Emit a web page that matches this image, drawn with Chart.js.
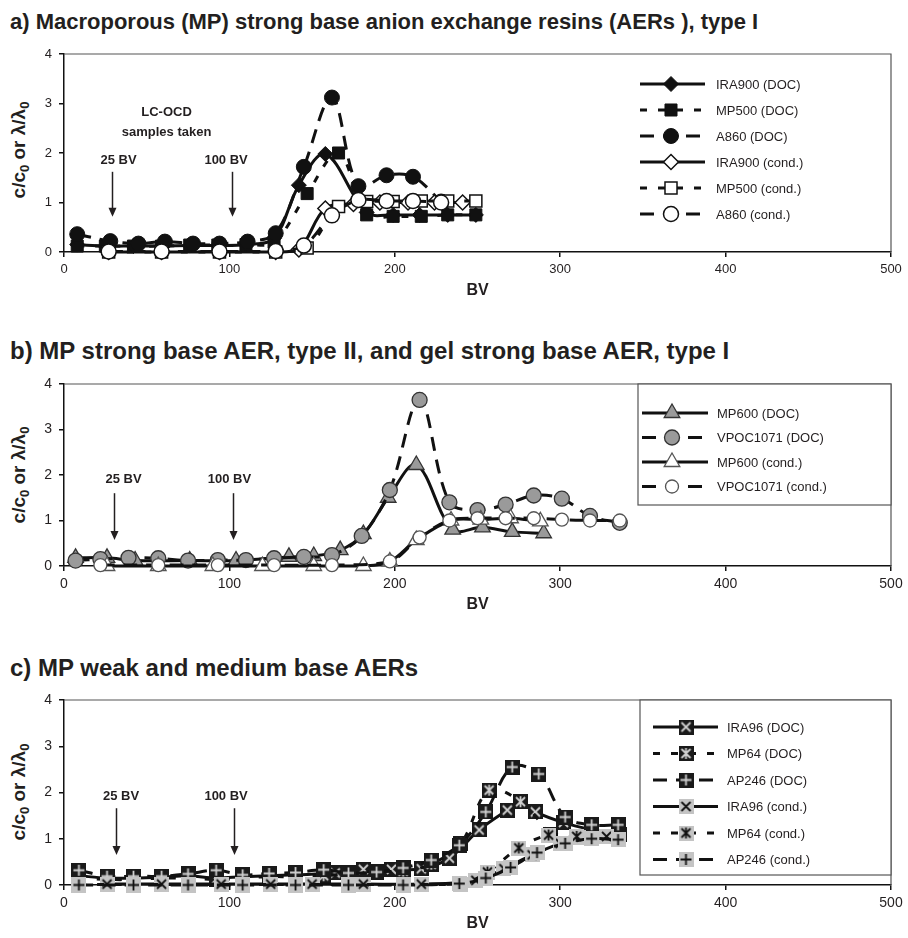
<!DOCTYPE html>
<html><head><meta charset="utf-8">
<script src="https://cdn.jsdelivr.net/npm/chart.js@4.4.1/dist/chart.umd.min.js"></script>
<style>
html,body{margin:0;padding:0;background:#fff;}
body{width:908px;height:938px;position:relative;overflow:hidden;font-family:"Liberation Sans",Arial,sans-serif;color:#231f20;}
.title{position:absolute;left:10px;font-weight:bold;white-space:nowrap;}
.ylab{position:absolute;width:200px;text-align:center;font-weight:bold;font-size:19px;line-height:24px;transform:rotate(-90deg);white-space:nowrap;}
.ylab sub{font-size:13px;vertical-align:-4px;line-height:0;}
canvas{position:absolute;left:0;}
</style></head>
<body>
<div class="title" style="top:9px;font-size:22px;line-height:26px">a) Macroporous (MP) strong base anion exchange resins (AERs ), type I</div>
<div class="title" style="top:337px;font-size:24px;line-height:28px">b) MP strong base AER, type II, and gel strong base AER, type I</div>
<div class="title" style="top:654px;font-size:24px;line-height:28px">c) MP weak and medium base AERs</div>
<div class="ylab" style="left:-81px;top:138px">c/c<sub>0</sub> or λ/λ<sub>0</sub></div>
<div class="ylab" style="left:-81px;top:463px">c/c<sub>0</sub> or λ/λ<sub>0</sub></div>
<div class="ylab" style="left:-81px;top:780px">c/c<sub>0</sub> or λ/λ<sub>0</sub></div>
<canvas id="ca" width="908" height="300" style="top:0px"></canvas>
<canvas id="cb" width="908" height="304" style="top:310px"></canvas>
<canvas id="cc" width="908" height="313" style="top:620px"></canvas>
<script>
// ---------- axis ticks ----------
const BV_TICKS = [0, 100, 200, 300, 400, 500];
const Y_TICKS = [0, 1, 2, 3, 4];

// ---------- panel a ----------
const a_IRA900_DOC_bv = [8, 25, 42, 59, 76, 93, 110, 127, 142, 158, 183, 199, 215, 232, 249];
const a_IRA900_DOC    = [0.15, 0.12, 0.12, 0.12, 0.13, 0.13, 0.15, 0.28, 1.35, 1.98, 0.8, 0.75, 0.75, 0.75, 0.75];
const a_MP500_DOC_bv  = [8, 25, 42, 59, 76, 93, 110, 127, 147, 166, 183, 199, 216, 232, 249];
const a_MP500_DOC     = [0.12, 0.12, 0.12, 0.12, 0.14, 0.14, 0.15, 0.2, 1.18, 2.0, 0.75, 0.72, 0.72, 0.75, 0.75];
const a_A860_DOC_bv   = [8, 28, 45, 61, 78, 94, 111, 128, 145, 162, 178, 195, 211, 228];
const a_A860_DOC      = [0.36, 0.22, 0.17, 0.21, 0.17, 0.17, 0.21, 0.38, 1.72, 3.12, 1.33, 1.55, 1.52, 1.02];
const a_IRA900_C_bv   = [27, 59, 94, 128, 142, 158, 175, 191, 208, 224, 241];
const a_IRA900_C      = [0, 0, 0, 0, 0.05, 0.88, 0.97, 1.0, 1.0, 1.0, 1.0];
const a_MP500_C_bv    = [27, 59, 94, 128, 147, 166, 183, 199, 216, 232, 249];
const a_MP500_C       = [0, 0, 0, 0, 0.08, 0.92, 1.02, 1.02, 1.03, 1.03, 1.03];
const a_A860_C_bv     = [27, 59, 94, 128, 145, 162, 178, 195, 211, 228];
const a_A860_C        = [0.01, 0.01, 0.01, 0.02, 0.13, 0.74, 1.05, 1.03, 1.03, 1.0];

// ---------- panel b ----------
const b_MP600_DOC_bv = [7, 26, 43, 76, 104, 136, 151, 167, 181, 196, 213, 235, 253, 271, 290];
const b_MP600_DOC    = [0.18, 0.18, 0.12, 0.12, 0.12, 0.2, 0.22, 0.35, 0.7, 1.5, 2.22, 0.8, 0.85, 0.75, 0.72];
const b_VPOC_DOC_bv  = [7, 22, 39, 57, 75, 93, 110, 127, 145, 162, 180, 197, 215, 233, 250, 267, 284, 301, 318, 336];
const b_VPOC_DOC     = [0.12, 0.15, 0.18, 0.17, 0.12, 0.13, 0.13, 0.17, 0.2, 0.24, 0.66, 1.67, 3.65, 1.4, 1.23, 1.35, 1.55, 1.48, 1.1, 0.95];
const b_MP600_C_bv   = [26, 57, 90, 120, 151, 181, 197, 213, 234, 252, 270, 288];
const b_MP600_C      = [0, 0, 0, 0, 0, 0, 0.1, 0.57, 1.0, 1.02, 1.05, 0.98];
const b_VPOC_C_bv    = [22, 57, 93, 127, 162, 197, 215, 233, 250, 267, 284, 301, 318, 336];
const b_VPOC_C       = [0.02, 0.02, 0.02, 0.02, 0.02, 0.1, 0.63, 1.0, 1.05, 1.05, 1.05, 1.02, 1.0, 1.0];

// ---------- panel c ----------
const c_IRA96_DOC_bv = [9, 26, 42, 59, 75, 92, 108, 124, 140, 164, 181, 198, 216, 233, 251, 268, 276, 285, 302, 319, 336];
const c_IRA96_DOC    = [0.2, 0.15, 0.15, 0.17, 0.2, 0.15, 0.18, 0.2, 0.22, 0.26, 0.34, 0.34, 0.35, 0.58, 1.19, 1.62, 1.8, 1.58, 1.35, 1.2, 1.1];
const c_MP64_DOC_bv  = [9, 26, 42, 59, 75, 92, 108, 124, 140, 157, 172, 189, 205, 222, 240, 257, 276, 294];
const c_MP64_DOC     = [0.15, 0.12, 0.12, 0.15, 0.15, 0.12, 0.15, 0.18, 0.18, 0.2, 0.25, 0.3, 0.3, 0.45, 0.9, 2.05, 1.8, 1.1];
const c_AP246_DOC_bv = [9, 26, 42, 59, 75, 92, 108, 124, 140, 157, 172, 189, 205, 222, 239, 255, 271, 287, 303, 319, 335];
const c_AP246_DOC    = [0.32, 0.19, 0.19, 0.19, 0.24, 0.32, 0.22, 0.25, 0.27, 0.33, 0.26, 0.28, 0.37, 0.54, 0.86, 1.58, 2.55, 2.4, 1.47, 1.3, 1.3];
const c_IRA96_C_bv   = [26, 59, 95, 125, 150, 181, 216, 249, 266, 283, 300, 311, 328];
const c_IRA96_C      = [0.02, 0.02, 0.02, 0.02, 0.02, 0.02, 0.02, 0.1, 0.35, 0.65, 0.9, 1.03, 1.05];
const c_MP64_C_bv    = [9, 42, 75, 108, 140, 172, 205, 240, 256, 275, 293, 310];
const c_MP64_C       = [0.01, 0.01, 0.01, 0.01, 0.01, 0.01, 0.01, 0.02, 0.28, 0.8, 1.08, 1.05];
const c_AP246_C_bv   = [9, 42, 75, 108, 140, 172, 205, 239, 255, 270, 286, 303, 319, 335];
const c_AP246_C      = [0, 0, 0, 0, 0, 0, 0, 0.03, 0.15, 0.38, 0.7, 0.9, 1.0, 0.98];

// ---------- annotation positions (data units) ----------
const a_notes = [
  {bv: 62, y: 2.81, text: 'LC-OCD'}, {bv: 62, y: 2.42, text: 'samples taken'},
  {bv: 33, y: 1.86, text: '25 BV'}, {bv: 98, y: 1.86, text: '100 BV'}];
const a_arrows = [{bv: 29, y1: 1.62, y2: 0.71}, {bv: 101.5, y1: 1.62, y2: 0.71}];
const b_notes = [{bv: 36, y: 1.91, text: '25 BV'}, {bv: 100, y: 1.91, text: '100 BV'}];
const b_arrows = [{bv: 30, y1: 1.6, y2: 0.57}, {bv: 102, y1: 1.6, y2: 0.57}];
const c_notes = [{bv: 34.5, y: 1.92, text: '25 BV'}, {bv: 98, y: 1.92, text: '100 BV'}];
const c_arrows = [{bv: 31.5, y1: 1.66, y2: 0.65}, {bv: 103, y1: 1.66, y2: 0.65}];

// ---------- helpers ----------
const FONT = '"Liberation Sans", Arial, sans-serif';
Chart.defaults.font.family = FONT;
Chart.defaults.color = '#231f20';

function pts(bv, v) { return bv.map((x, i) => ({x: x, y: v[i]})); }

function glyphMarker(bg, fg, glyph) {
  const s = 15, c = document.createElement('canvas');
  c.width = s; c.height = s;
  const g = c.getContext('2d');
  g.fillStyle = bg; g.fillRect(0, 0, s, s);
  g.strokeStyle = fg; g.lineWidth = 1.8; g.lineCap = 'butt';
  const m = s / 2, d = 4.5;
  g.beginPath();
  if (glyph === 'x' || glyph === 'star') {
    g.moveTo(m - d, m - d); g.lineTo(m + d, m + d);
    g.moveTo(m + d, m - d); g.lineTo(m - d, m + d);
  }
  if (glyph === 'star') { g.moveTo(m, m - 5.5); g.lineTo(m, m + 5.5); }
  if (glyph === 'plus') {
    g.moveTo(m - 5.5, m); g.lineTo(m + 5.5, m);
    g.moveTo(m, m - 5.5); g.lineTo(m, m + 5.5);
  }
  g.stroke();
  return c;
}

function drawMarker(ctx, s, x, y) {
  ctx.save();
  ctx.fillStyle = s.fill; ctx.strokeStyle = s.stroke; ctx.lineWidth = s.bw;
  const r = s.r;
  if (s.ps instanceof HTMLCanvasElement) {
    ctx.drawImage(s.ps, x - s.ps.width / 2, y - s.ps.height / 2);
    ctx.restore(); return;
  }
  ctx.beginPath();
  if (s.ps === 'circle') ctx.arc(x, y, r, 0, Math.PI * 2);
  else if (s.ps === 'rect') { const h = r * Math.SQRT1_2; ctx.rect(x - h, y - h, 2 * h, 2 * h); }
  else if (s.ps === 'rectRot') { ctx.moveTo(x - r, y); ctx.lineTo(x, y - r); ctx.lineTo(x + r, y); ctx.lineTo(x, y + r); ctx.closePath(); }
  else if (s.ps === 'triangle') {
    let a = 0; ctx.moveTo(x + Math.sin(a) * r, y - Math.cos(a) * r);
    a += 2 * Math.PI / 3; ctx.lineTo(x + Math.sin(a) * r, y - Math.cos(a) * r);
    a += 2 * Math.PI / 3; ctx.lineTo(x + Math.sin(a) * r, y - Math.cos(a) * r);
    ctx.closePath();
  }
  ctx.fill(); if (s.bw > 0) ctx.stroke();
  ctx.restore();
}

const framePlugin = {
  id: 'frame',
  beforeDatasetsDraw(chart) {
    const a = chart.chartArea, ctx = chart.ctx;
    ctx.save(); ctx.strokeStyle = '#555'; ctx.lineWidth = 1.2;
    ctx.beginPath(); ctx.moveTo(a.left, a.top); ctx.lineTo(a.right, a.top); ctx.lineTo(a.right, a.bottom); ctx.stroke();
    ctx.restore();
  }
};

const legendPlugin = {
  id: 'boxLegend',
  afterDatasetsDraw(chart, args, o) {
    const ctx = chart.ctx, series = o.series;
    ctx.save();
    if (o.box) {
      ctx.fillStyle = '#fff'; ctx.strokeStyle = '#555'; ctx.lineWidth = 1.2;
      ctx.fillRect(o.box[0], o.box[1], o.box[2] - o.box[0], o.box[3] - o.box[1]);
      ctx.strokeRect(o.box[0], o.box[1], o.box[2] - o.box[0], o.box[3] - o.box[1]);
    }
    series.forEach((s, i) => {
      const y = o.y0 + i * o.dy;
      ctx.save();
      ctx.strokeStyle = '#111'; ctx.lineWidth = 3; ctx.setLineDash(s.dash || []);
      ctx.beginPath(); ctx.moveTo(o.x1, y); ctx.lineTo(o.x2, y); ctx.stroke();
      ctx.restore();
      drawMarker(ctx, s, o.xm, y);
      ctx.fillStyle = '#231f20'; ctx.font = '13px ' + FONT; ctx.textBaseline = 'middle'; ctx.textAlign = 'left';
      ctx.fillText(s.label, o.xt, y + 1);
    });
    ctx.restore();
  }
};

const notePlugin = {
  id: 'notes',
  afterDatasetsDraw(chart, args, o) {
    const ctx = chart.ctx, xs = chart.scales.x, ys = chart.scales.y;
    ctx.save();
    ctx.fillStyle = '#231f20'; ctx.strokeStyle = '#231f20';
    ctx.font = 'bold 13px ' + FONT; ctx.textAlign = 'center'; ctx.textBaseline = 'middle';
    o.notes.forEach(n => ctx.fillText(n.text, xs.getPixelForValue(n.bv), ys.getPixelForValue(n.y)));
    o.arrows.forEach(a => {
      const x = Math.round(xs.getPixelForValue(a.bv)) + 0.5, y1 = ys.getPixelForValue(a.y1), y2 = ys.getPixelForValue(a.y2);
      ctx.lineWidth = 1.5; ctx.beginPath(); ctx.moveTo(x, y1); ctx.lineTo(x, y2 - 7); ctx.stroke();
      ctx.beginPath(); ctx.moveTo(x - 4, y2 - 9); ctx.lineTo(x + 4, y2 - 9); ctx.lineTo(x, y2); ctx.closePath(); ctx.fill();
    });
    ctx.restore();
  }
};

function build(id, cfg) {
  const n = cfg.series.length;
  return new Chart(document.getElementById(id), {
    type: 'line',
    data: {datasets: cfg.series.map((s, i) => ({
      label: s.label, data: pts(s.bv, s.v),
      borderColor: '#111', borderWidth: 3, borderDash: s.dash || [],
      tension: 0.35, fill: false, clip: false,
      pointStyle: s.ps, pointRadius: s.r, pointBackgroundColor: s.fill,
      pointBorderColor: s.stroke, pointBorderWidth: s.bw, order: n - i
    }))},
    options: {
      responsive: false, animation: false, devicePixelRatio: 1,
      layout: {padding: {top: cfg.padTop, right: 17, left: 0, bottom: 0}},
      plugins: {
        legend: {display: false}, tooltip: {enabled: false},
        boxLegend: cfg.legend, notes: {notes: cfg.notes, arrows: cfg.arrows}
      },
      scales: {
        x: {
          type: 'linear', min: 0, max: 500,
          afterBuildTicks: sc => { sc.ticks = BV_TICKS.map(v => ({value: v})); },
          afterFit: sc => { sc.height = cfg.xh; },
          ticks: {font: {size: cfg.tick}, color: '#231f20', padding: 5, maxRotation: 0},
          grid: {drawOnChartArea: false, drawTicks: true, tickLength: 5, color: '#111', lineWidth: 1.5},
          border: {color: '#111', width: 1.5},
          title: {display: true, text: 'BV', font: {size: 16, weight: 'bold'}, color: '#231f20', padding: 0}
        },
        y: {
          type: 'linear', min: 0, max: 4,
          afterBuildTicks: sc => { sc.ticks = Y_TICKS.map(v => ({value: v})); },
          afterFit: sc => { sc.width = 64; },
          ticks: {font: {size: cfg.tick}, color: '#231f20', padding: 7},
          grid: {drawOnChartArea: false, drawTicks: true, tickLength: 5, color: '#111', lineWidth: 1.5},
          border: {color: '#111', width: 1.5}
        }
      }
    },
    plugins: [framePlugin, legendPlugin, notePlugin]
  });
}

const LONG = [14, 9], SHORT = [7, 11];

// panel a
const aSeries = [
  {label: 'IRA900 (DOC)', bv: a_IRA900_DOC_bv, v: a_IRA900_DOC, ps: 'rectRot', r: 7.5, fill: '#111', stroke: '#111', bw: 1},
  {label: 'MP500 (DOC)', bv: a_MP500_DOC_bv, v: a_MP500_DOC, ps: 'rect', r: 8.5, fill: '#111', stroke: '#111', bw: 1, dash: SHORT},
  {label: 'A860 (DOC)', bv: a_A860_DOC_bv, v: a_A860_DOC, ps: 'circle', r: 7.5, fill: '#111', stroke: '#111', bw: 1, dash: LONG},
  {label: 'IRA900 (cond.)', bv: a_IRA900_C_bv, v: a_IRA900_C, ps: 'rectRot', r: 7.5, fill: '#fff', stroke: '#111', bw: 1.5},
  {label: 'MP500 (cond.)', bv: a_MP500_C_bv, v: a_MP500_C, ps: 'rect', r: 8.5, fill: '#fff', stroke: '#111', bw: 1.5, dash: SHORT},
  {label: 'A860 (cond.)', bv: a_A860_C_bv, v: a_A860_C, ps: 'circle', r: 7.5, fill: '#fff', stroke: '#111', bw: 1.5, dash: LONG}
];
build('ca', {series: aSeries, padTop: 54, xh: 48, tick: 13, notes: a_notes, arrows: a_arrows,
  legend: {series: aSeries, y0: 84, dy: 26, x1: 640, x2: 705, xm: 671, xt: 716}});

// panel b
const bSeries = [
  {label: 'MP600 (DOC)', bv: b_MP600_DOC_bv, v: b_MP600_DOC, ps: 'triangle', r: 9, fill: '#9a9a9a', stroke: '#333', bw: 1.3},
  {label: 'VPOC1071 (DOC)', bv: b_VPOC_DOC_bv, v: b_VPOC_DOC, ps: 'circle', r: 7.5, fill: '#9a9a9a', stroke: '#333', bw: 1.3, dash: LONG},
  {label: 'MP600 (cond.)', bv: b_MP600_C_bv, v: b_MP600_C, ps: 'triangle', r: 9, fill: '#fff', stroke: '#555', bw: 1.3},
  {label: 'VPOC1071 (cond.)', bv: b_VPOC_C_bv, v: b_VPOC_C, ps: 'circle', r: 6.5, fill: '#fff', stroke: '#555', bw: 1.3, dash: LONG}
];
build('cb', {series: bSeries, padTop: 74, xh: 48, tick: 14, notes: b_notes, arrows: b_arrows,
  legend: {series: bSeries, box: [638, 74, 891, 195], y0: 103, dy: 24.5, x1: 642, x2: 708, xm: 672, xt: 717}});

// panel c
const DOCBG = '#1a1a1a', DOCFG = '#d0d0d0', CBG = '#c4c4c4', CFG = '#111';
const cSeries = [
  {label: 'IRA96 (DOC)', bv: c_IRA96_DOC_bv, v: c_IRA96_DOC, ps: glyphMarker(DOCBG, DOCFG, 'x'), r: 7, bw: 0},
  {label: 'MP64 (DOC)', bv: c_MP64_DOC_bv, v: c_MP64_DOC, ps: glyphMarker(DOCBG, DOCFG, 'star'), r: 7, bw: 0, dash: SHORT},
  {label: 'AP246 (DOC)', bv: c_AP246_DOC_bv, v: c_AP246_DOC, ps: glyphMarker(DOCBG, DOCFG, 'plus'), r: 7, bw: 0, dash: LONG},
  {label: 'IRA96 (cond.)', bv: c_IRA96_C_bv, v: c_IRA96_C, ps: glyphMarker(CBG, CFG, 'x'), r: 7, bw: 0},
  {label: 'MP64 (cond.)', bv: c_MP64_C_bv, v: c_MP64_C, ps: glyphMarker(CBG, CFG, 'star'), r: 7, bw: 0, dash: SHORT},
  {label: 'AP246 (cond.)', bv: c_AP246_C_bv, v: c_AP246_C, ps: glyphMarker(CBG, CFG, 'plus'), r: 7, bw: 0, dash: LONG}
];
build('cc', {series: cSeries, padTop: 80, xh: 48, tick: 14, notes: c_notes, arrows: c_arrows,
  legend: {series: cSeries, box: [640, 80, 891, 255], y0: 107, dy: 26.5, x1: 653, x2: 718, xm: 686, xt: 727}});
</script>
</body></html>
